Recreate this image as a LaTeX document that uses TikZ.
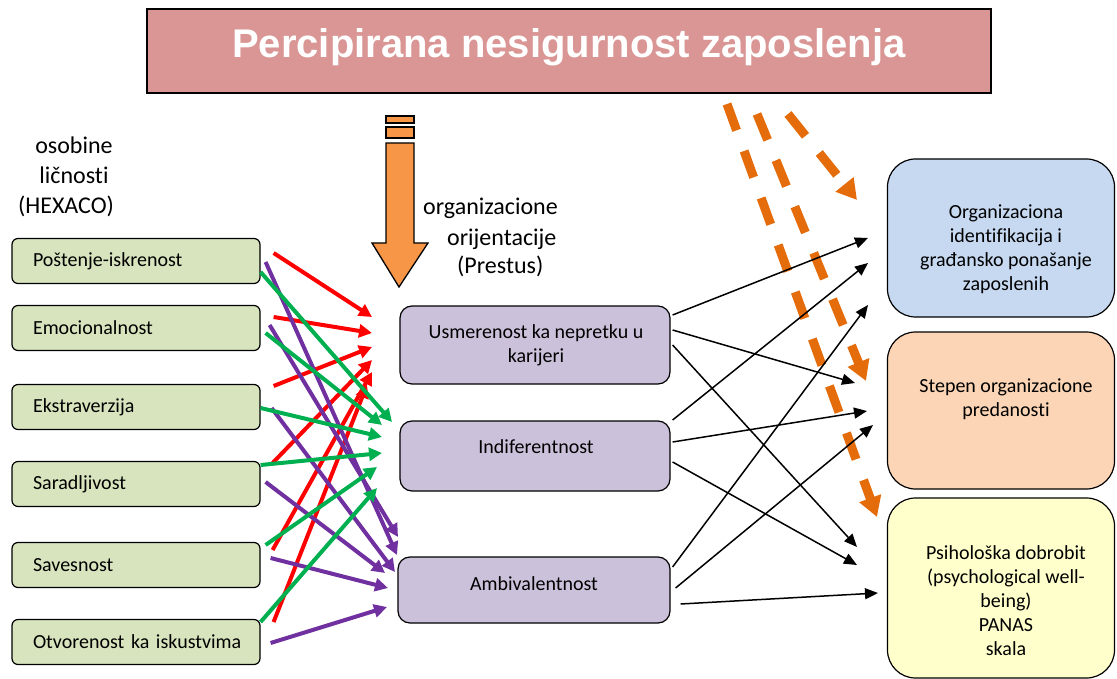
\documentclass[tikz,border=0pt]{standalone}
\usepackage{fontspec}
\setmainfont{Carlito}[Ligatures=NoCommon]
\newfontfamily\titlefont{Liberation Sans}
\usetikzlibrary{arrows.meta}
\newcommand\myfs[2]{\fontsize{#1}{#2}\selectfont}
\definecolor{lgreen}{HTML}{D7E4BD}
\definecolor{lpurple}{HTML}{CCC1DA}
\definecolor{rblue}{HTML}{C6D9F1}
\definecolor{rpeach}{HTML}{FBD5B5}
\definecolor{ryellow}{HTML}{FFFFCC}
\definecolor{titlefill}{HTML}{D99694}
\definecolor{blockorange}{HTML}{F79646}
\definecolor{dashorange}{HTML}{E46C0A}
\definecolor{redA}{HTML}{FF0000}
\definecolor{greenA}{HTML}{00B050}
\definecolor{purpleA}{HTML}{7030A0}
\begin{document}
\begin{tikzpicture}[x=1pt,y=-1pt,
  lbox/.style={draw=black,line width=1.2pt,rounded corners=6pt,fill=lgreen,
    minimum height=45pt,text width=206pt,inner xsep=21pt,inner ysep=0pt,
    align=left,font=\myfs{20}{24}},
  mbox/.style={draw=black,line width=1.2pt,rounded corners=12pt,fill=lpurple,
    minimum width=270pt,inner sep=0pt},
  rbox/.style={draw=black,line width=1.2pt,rounded corners=28pt,
    minimum width=227pt,inner sep=0pt},
  btext/.style={align=center,font=\myfs{20}{24},inner sep=0pt},
  htext/.style={anchor=base,font=\myfs{24}{30},inner sep=0pt},
  titlebox/.style={draw=black,line width=2pt,fill=titlefill,
    minimum width=844pt,minimum height=84pt,inner sep=0pt},
  titletext/.style={anchor=base,text=white,inner sep=0pt,
    font=\titlefont\bfseries\myfs{40}{48}},
  blockarrow/.style={draw=black,line width=1.3pt,fill=blockorange},
  colarr/.style={line width=4pt,-{Triangle[length=13pt,width=13pt]}},
  redarr/.style={colarr,draw=redA},
  greenarr/.style={colarr,draw=greenA},
  purplearr/.style={colarr,draw=purpleA},
  blackarr/.style={line width=1.5pt,draw=black,-{Triangle[length=13pt,width=11pt]}},
  dasharr/.style={line width=9pt,draw=dashorange,dash pattern=on 28pt off 22pt,
    -{Triangle[length=20pt,width=22pt]}}
]
\useasboundingbox (0,0) rectangle (1117,679);

% title
\node[titlebox] (title) at (568.5,51.5) {};
\node[titletext] (titletxt) at (569,58) {Percipirana nesigurnost zaposlenja};

% orange block arrow
\filldraw[blockarrow] (386,116) rectangle (414,123);
\filldraw[blockarrow] (386,127) rectangle (414,138);
\filldraw[blockarrow] (386,143) -- (414,143) -- (414,243) -- (428,243)
  -- (399,287) -- (372,243) -- (386,243) -- cycle;

% headers
\node[htext] (hx1) at (74,154) {osobine};
\node[htext] (hx2) at (74,184) {ličnosti};
\node[htext] (hx3) at (66,214) {(HEXACO)};
\node[htext,anchor=base west] (ho1) at (423,215) {organizacione};
\node[htext,anchor=base west] (ho2) at (447,246) {orijentacije};
\node[htext,anchor=base west] (ho3) at (457,274) {(Prestus)};

% left boxes
\node[lbox] (p1) at (136,261) {Poštenje-iskrenost};
\node[lbox] (p2) at (136,328) {Emocionalnost};
\node[lbox] (p3) at (136,407) {Ekstraverzija};
\node[lbox] (p4) at (136,484) {Saradljivost};
\node[lbox] (p5) at (136,565) {Savesnost};
\node[lbox] (p6) at (136,642) {\mbox{Otvorenost ka iskustvima}};

% middle boxes
\node[mbox,minimum height=78pt] (m1) at (535,345) {};
\node[btext] (m1t) at (536,345) {Usmerenost ka nepretku u\\karijeri};
\node[mbox,minimum height=70pt] (m2) at (535,456) {};
\node[btext] (m2t) at (536,447) {Indiferentnost};
\node[mbox,minimum height=66pt,minimum width=272pt] (m3) at (534,590) {};
\node[btext] (m3t) at (534,584) {Ambivalentnost};

% right boxes
\node[rbox,fill=rblue,minimum height=158pt] (b1) at (1001,238) {};
\node[btext] (b1t) at (1006,249) {Organizaciona\\identifikacija i\\građansko ponašanje\\zaposlenih};
\node[rbox,fill=rpeach,minimum height=157pt] (b2) at (1001,410.5) {};
\node[btext] (b2t) at (1006,399) {Stepen organizacione\\predanosti};
\node[rbox,fill=ryellow,minimum height=180pt] (b3) at (1001,588) {};
\node[btext] (b3t) at (1006,601) {Psihološka dobrobit\\(psychological well-\\being)\\PANAS\\skala};

% free arrow ends
\foreach \n/\x/\y in {
 re1/372/317, re2/372/333, re3/372/347, re4/372/360, re5/372/372, re6/367/385,
 ge1/392/422, ge2/382/425, ge3/382/437, ge4/382/453, ge5/377/467, ge6/377/488,
 pe1/397/555, pe2/398/537, pe3/395/572, pe4/385/573, pe5/388/588, pe6/387/607,
 ke1/868/238, ke2/855/383, ke3/857/547, ke4/868/263, ke5/867/411, ke6/857/565,
 ke7/868/305, ke8/873/425, ke9/878/593,
 de1/857/200, de2/866/381, de3/877/517}
 \coordinate (\n) at (\x,\y);

% dashed orange arrows
\draw[dasharr] ([shift={(219.5,19.5)}]title.south) -- (de1);
\draw[dasharr] ([shift={(188.5,19.5)}]title.south) -- (de2);
\draw[dasharr] ([shift={(158.5,9.5)}]title.south) -- (de3);

% red arrows
\draw[redarr] ([shift={(13,-8)}]p1.east) -- (re1);
\draw[redarr] ([shift={(13,-11)}]p2.east) -- (re2);
\draw[redarr] ([shift={(13,-21)}]p3.east) -- (re3);
\draw[redarr] ([shift={(12,-21)}]p4.east) -- (re4);
\draw[redarr] ([shift={(12,-15)}]p5.east) -- (re5);
\draw[redarr] ([shift={(13,-20)}]p6.east) -- (re6);

% purple arrows
\draw[purplearr] ([shift={(5,1)}]p1.east) -- (pe1);
\draw[purplearr] ([shift={(9,-3)}]p2.east) -- (pe2);
\draw[purplearr] ([shift={(11,1)}]p3.east) -- (pe3);
\draw[purplearr] ([shift={(5,-2)}]p4.east) -- (pe4);
\draw[purplearr] ([shift={(10,-7)}]p5.east) -- (pe5);
\draw[purplearr] ([shift={(10,1)}]p6.east) -- (pe6);

% green arrows
\draw[greenarr] ([shift={(0,11)}]p1.east) -- (ge1);
\draw[greenarr] ([shift={(5,5)}]p2.east) -- (ge2);
\draw[greenarr] ([shift={(0,1)}]p3.east) -- (ge3);
\draw[greenarr] ([shift={(0,-19)}]p4.east) -- (ge4);
\draw[greenarr] ([shift={(5,-20)}]p5.east) -- (ge5);
\draw[greenarr] ([shift={(0,-20)}]p6.east) -- (ge6);

% black arrows
\draw[blackarr] ([shift={(2,-30)}]m1.east) -- (ke1);
\draw[blackarr] ([shift={(2,-15)}]m1.east) -- (ke2);
\draw[blackarr] ([shift={(2,0)}]m1.east) -- (ke3);
\draw[blackarr] ([shift={(2,-36)}]m2.east) -- (ke4);
\draw[blackarr] ([shift={(2,-14)}]m2.east) -- (ke5);
\draw[blackarr] ([shift={(2,6)}]m2.east) -- (ke6);
\draw[blackarr] ([shift={(2,-23)}]m3.east) -- (ke7);
\draw[blackarr] ([shift={(5,-2)}]m3.east) -- (ke8);
\draw[blackarr] ([shift={(10,14)}]m3.east) -- (ke9);
\end{tikzpicture}
\end{document}
